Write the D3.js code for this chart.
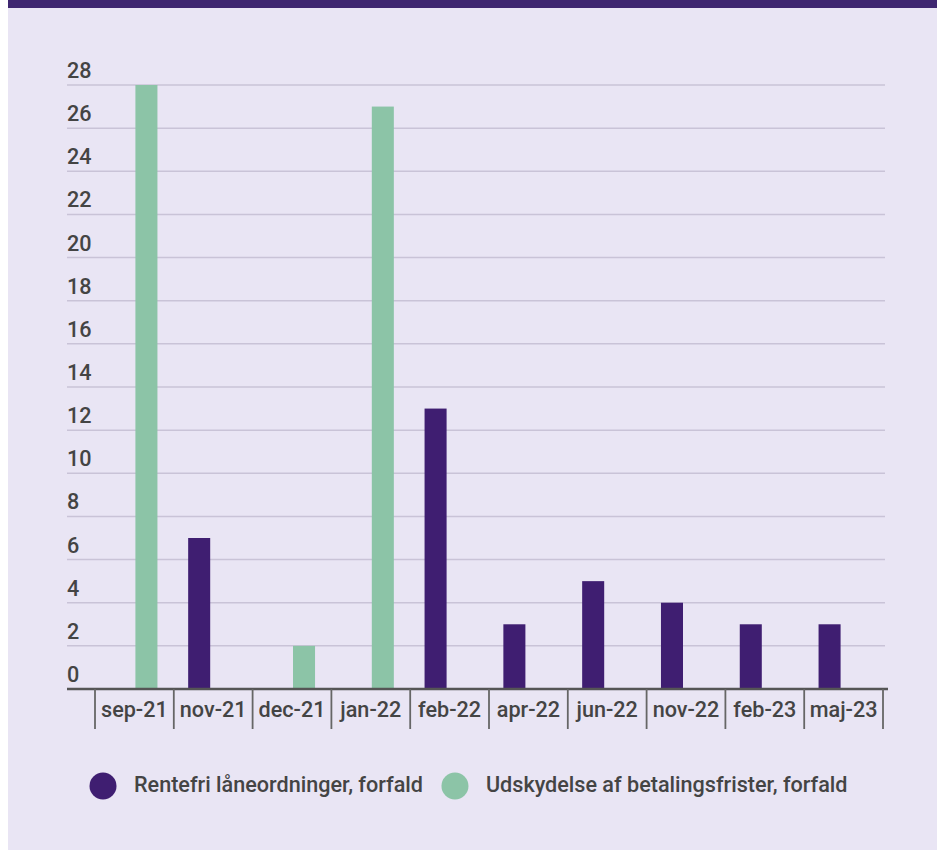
<!DOCTYPE html>
<html>
<head>
<meta charset="utf-8">
<script src="https://cdn.jsdelivr.net/npm/d3@7"></script>
<style>
  body { margin: 0; background: #fff; }
  text { font-family: Roboto, "Noto Sans", sans-serif; font-weight: 500; }
</style>
</head>
<body>
<div id="chart"></div>
<script>
const categories = ["sep-21", "nov-21", "dec-21", "jan-22", "feb-22", "apr-22", "jun-22", "nov-22", "feb-23", "maj-23"];
const seriesNames = ["Rentefri låneordninger, forfald", "Udskydelse af betalingsfrister, forfald"];
const rentefri = [0, 7, 0, 0, 13, 3, 5, 4, 3, 3];
const udskydelse = [28, 0, 2, 27, 0, 0, 0, 0, 0, 0];
const yTicks = [0, 2, 4, 6, 8, 10, 12, 14, 16, 18, 20, 22, 24, 26, 28];
const colors = ["#3f1e71", "#8cc4a7"];

const width = 937;
const height = 851;
const fontSize = "21.6px";

const svg = d3.select("#chart")
  .append("svg")
  .attr("width", width)
  .attr("height", height);

// background panel + top band
svg.append("rect").attr("x", 8).attr("y", 0).attr("width", width - 8).attr("height", 850).attr("fill", "#e9e5f4");
svg.append("rect").attr("x", 8).attr("y", 0).attr("width", width - 8).attr("height", 8).attr("fill", "#3e2670");

const plotLeft = 67, plotRight = 885;

const x = d3.scaleBand().domain(categories).range([95, 883]);
const x1 = d3.scaleBand().domain([0, 1]).range([0, x.bandwidth()]).paddingInner(0.154).paddingOuter(0.59);
const y = d3.scaleLinear().domain([0, 28]).range([689, 85]);

// gridlines
svg.append("g")
  .selectAll("line")
  .data(yTicks.filter((d) => d > 0))
  .enter()
  .append("line")
  .attr("x1", plotLeft)
  .attr("x2", plotRight)
  .attr("y1", (d) => y(d))
  .attr("y2", (d) => y(d))
  .attr("stroke", "#c9c3d7")
  .attr("stroke-width", 1.5);

// y labels sit above their gridline
svg.append("g")
  .selectAll("text")
  .data(yTicks)
  .enter()
  .append("text")
  .attr("x", plotLeft)
  .attr("y", (d) => y(d) - 7)
  .attr("fill", "#444")
  .style("font-size", fontSize)
  .text((d) => d);

// bars
const rows = categories.map((c, i) => ({ cat: c, vals: [rentefri[i], udskydelse[i]] }));
const groups = svg.append("g")
  .selectAll("g")
  .data(rows)
  .enter()
  .append("g")
  .attr("transform", (d) => `translate(${x(d.cat)},0)`);

groups.selectAll("rect")
  .data((d) => d.vals.map((v, k) => ({ k, v })).filter((e) => e.v > 0))
  .enter()
  .append("rect")
  .attr("x", (d) => x1(d.k) - 1)
  .attr("width", x1.bandwidth())
  .attr("y", (d) => y(d.v))
  .attr("height", (d) => y(0) - y(d.v))
  .attr("fill", (d) => colors[d.k]);

// x axis: baseline, separators, labels
svg.append("line")
  .attr("x1", plotLeft).attr("x2", 888)
  .attr("y1", y(0)).attr("y2", y(0))
  .attr("stroke", "#555").attr("stroke-width", 2.5);

const bounds = categories.map((c) => x(c)).concat([x.range()[1]]);
svg.append("g")
  .selectAll("line")
  .data(bounds)
  .enter()
  .append("line")
  .attr("x1", (d) => d).attr("x2", (d) => d)
  .attr("y1", y(0)).attr("y2", y(0) + 40)
  .attr("stroke", "#666").attr("stroke-width", 1.8);

svg.append("g")
  .selectAll("text")
  .data(categories)
  .enter()
  .append("text")
  .attr("x", (d) => x(d) + x.bandwidth() / 2)
  .attr("y", 717)
  .attr("text-anchor", "middle")
  .attr("fill", "#444")
  .style("font-size", fontSize)
  .text((d) => d);

// legend
const legend = svg.append("g");
let lx = 103;
seriesNames.forEach((name, i) => {
  legend.append("circle").attr("cx", lx).attr("cy", 786).attr("r", 13.5).attr("fill", colors[i]);
  const t = legend.append("text")
    .attr("x", lx + 31)
    .attr("y", 792)
    .attr("fill", "#444")
    .style("font-size", fontSize)
    .text(name);
  lx += 31 + t.node().getComputedTextLength() + 32;
});
</script>
</body>
</html>
